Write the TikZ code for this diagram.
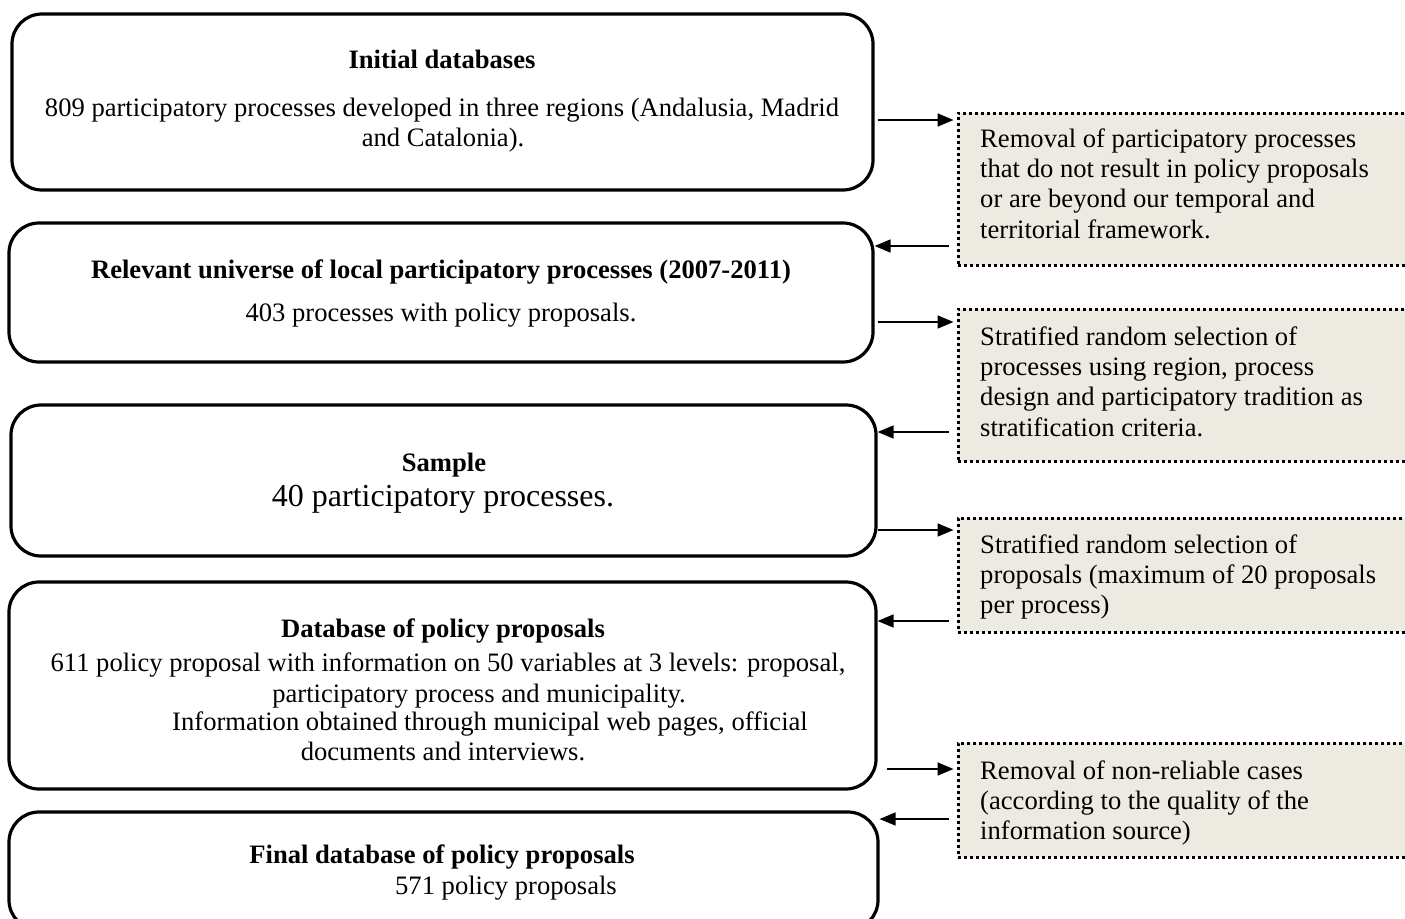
\documentclass[tikz,border=0pt]{standalone}
\usepackage{fontspec}
\setmainfont{Liberation Serif}
\usetikzlibrary{arrows.meta}
\definecolor{notefill}{HTML}{EDEBE1}
\tikzset{
  bigbox/.style={draw=black, line width=3.2pt, rounded corners=30pt, rectangle, inner sep=0pt},
  notebox/.style={draw=black, fill=notefill, line width=3pt, dash pattern=on 3pt off 3pt, rectangle, inner sep=0pt},
  txt/.style={font=\fontsize{26.6}{30}\selectfont, anchor=base, inner sep=0pt},
  ttl/.style={txt, font=\fontsize{26.6}{30}\selectfont\bfseries},
  big/.style={txt, font=\fontsize{32}{36}\selectfont},
  ntxt/.style={font=\fontsize{26.6}{30}\selectfont, anchor=base west, inner sep=0pt},
  arr/.style={line width=1.6pt, -{Triangle[length=16pt,width=13pt]}}
}
\begin{document}
\begin{tikzpicture}[x=1pt,y=-1pt]
\useasboundingbox (0,0) rectangle (1405,918);
\clip (0,0) rectangle (1405,918);
% main boxes
\node[bigbox, minimum width=861pt, minimum height=176pt] (b1) at (442.5,102) {};
\node[bigbox, minimum width=864pt, minimum height=139pt] (b2) at (441,292.5) {};
\node[bigbox, minimum width=865pt, minimum height=151pt] (b3) at (443.5,480.5) {};
\node[bigbox, minimum width=867pt, minimum height=207pt] (b4) at (442.5,685.5) {};
\node[bigbox, minimum width=869pt, minimum height=118pt] (b5) at (443.5,871) {};
% note boxes
\node[notebox, minimum width=462pt, minimum height=152pt] (r1) at (1189,189) {};
\node[notebox, minimum width=462pt, minimum height=152pt] (r2) at (1189,385) {};
\node[notebox, minimum width=462pt, minimum height=114pt] (r3) at (1189,575) {};
\node[notebox, minimum width=462pt, minimum height=114pt] (r4) at (1189,800) {};
% texts box 1
\node[ttl] (t1a) at (442,68) {Initial databases};
\node[txt] (t1b) at (442,116) {809 participatory processes developed in three regions (Andalusia, Madrid};
\node[txt] (t1c) at (443,146) {and Catalonia).};
% box 2
\node[ttl] (t2a) at (441,278) {Relevant universe of local participatory processes (2007-2011)};
\node[txt] (t2b) at (441,321) {403 processes with policy proposals.};
% box 3
\node[ttl] (t3a) at (444,471) {Sample};
\node[big] (t3b) at (443,506) {40 participatory processes.};
% box 4
\node[ttl] (t4a) at (443,637) {Database of policy proposals};
\node[txt] (t4b) at (448,671) {611 policy proposal with information on 50 variables at 3 levels: proposal,};
\node[txt] (t4c) at (479,702) {participatory process and municipality.};
\node[txt] (t4d) at (490,730) {Information obtained through municipal web pages, official};
\node[txt] (t4e) at (443,760) {documents and interviews.};
% box 5
\node[ttl] (t5a) at (442,863) {Final database of policy proposals};
\node[txt] (t5b) at (506,894) {571 policy proposals};
% notes
\node[ntxt] (n1a) at (980,147) {Removal of participatory processes};
\node[ntxt] (n1b) at (980,177) {that do not result in policy proposals};
\node[ntxt] (n1c) at (980,207) {or are beyond our temporal and};
\node[ntxt] (n1d) at (980,238) {territorial framework.};
\node[ntxt] (n2a) at (980,345) {Stratified random selection of};
\node[ntxt] (n2b) at (980,375) {processes using region, process};
\node[ntxt] (n2c) at (980,405) {design and participatory tradition as};
\node[ntxt] (n2d) at (980,436) {stratification criteria.};
\node[ntxt] (n3a) at (980,553) {Stratified random selection of};
\node[ntxt] (n3b) at (980,583) {proposals (maximum of 20 proposals};
\node[ntxt] (n3c) at (980,613) {per process)};
\node[ntxt] (n4a) at (980,779) {Removal of non-reliable cases};
\node[ntxt] (n4b) at (980,809) {(according to the quality of the};
\node[ntxt] (n4c) at (980,839) {information source)};
% arrows
\draw[arr, shorten <=3pt, shorten >=3pt] (b1.east |- 0,120) -- (r1.west |- 0,120);
\draw[arr, shorten <=8pt] (r1.west |- 0,246) -- (b2.east |- 0,246);
\draw[arr, shorten <=3pt, shorten >=3pt] (b2.east |- 0,322) -- (r2.west |- 0,322);
\draw[arr, shorten <=8pt] (r2.west |- 0,432) -- (b3.east |- 0,432);
\draw[arr, shorten <=0pt, shorten >=3pt] (b3.east |- 0,530) -- (r3.west |- 0,530);
\draw[arr, shorten <=8pt] (r3.west |- 0,621) -- (b4.east |- 0,621);
\draw[arr, shorten <=9pt, shorten >=3pt] (b4.east |- 0,769) -- (r4.west |- 0,769);
\draw[arr, shorten <=8pt] (r4.west |- 0,819) -- (b5.east |- 0,819);
\end{tikzpicture}
\end{document}
